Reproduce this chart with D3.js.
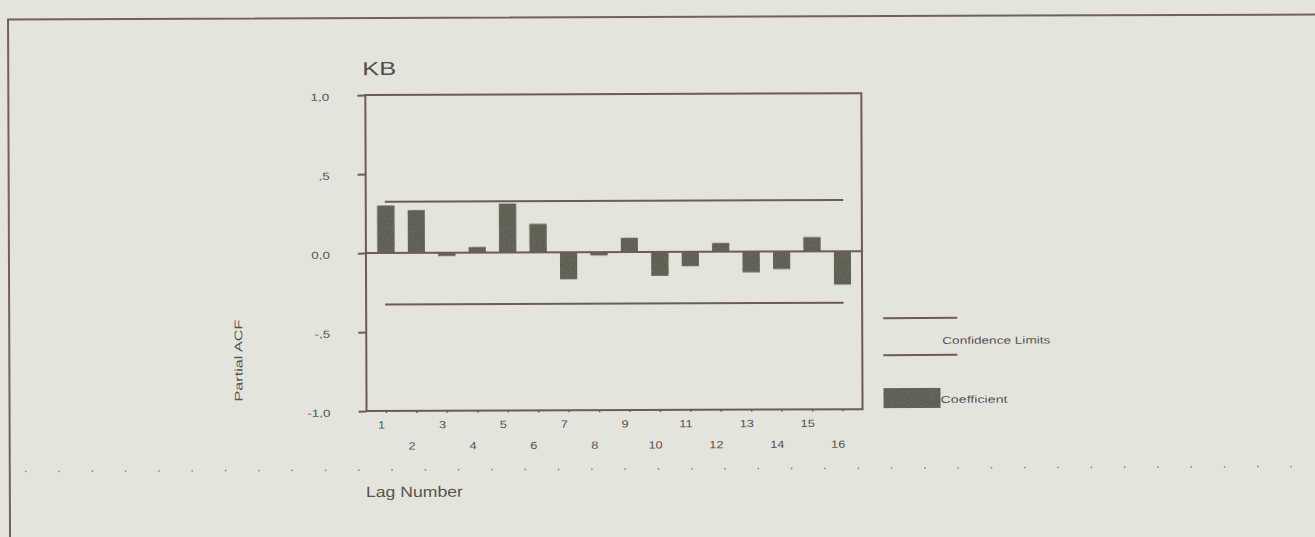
<!DOCTYPE html>
<html>
<head>
<meta charset="utf-8">
<script src="https://cdn.jsdelivr.net/npm/d3@7/dist/d3.min.js"></script>
<style>
  html, body { margin: 0; padding: 0; background: #e3e5dd; }
  svg { display: block; }
  text { font-family: "Liberation Sans", Arial, sans-serif; }
</style>
</head>
<body>
<svg id="chart" width="1315" height="537"></svg>
<script>
// Partial autocorrelation of the KB series, lags 1-16
const lags = [1, 2, 3, 4, 5, 6, 7, 8, 9, 10, 11, 12, 13, 14, 15, 16];
const pacf = [0.30, 0.27, -0.02, 0.035, 0.31, 0.18, -0.17, -0.02, 0.09, -0.15, -0.09, 0.055, -0.13, -0.11, 0.09, -0.21];
const confidenceLimit = 0.325;
const yTicks = [1, 0.5, 0, -0.5, -1];
const yTickLabels = ["1,0", ",5", "0,0", "-,5", "-1,0"];
const lagLabels = ["1", "2", "3", "4", "5", "6", "7", "8", "9", "10", "11", "12", "13", "14", "15", "16"];

const W = 1315, H = 537;
const plot = { left: 366, right: 862, top: 94, bottom: 410 };
const ink = "#6c5b57";
const textCol = "#58534f";
const barCol = "#7b7a6c";

// widen text horizontally by a factor, keeping its anchor
function stretch(sel, k) {
  sel.each(function () {
    const len = this.getComputedTextLength();
    d3.select(this).attr("textLength", len * k).attr("lengthAdjust", "spacingAndGlyphs");
  });
}

const svg = d3.select("#chart");

// speckled fill for the coefficient bars
const defs = svg.append("defs");
const grain = defs.append("filter").attr("id", "grain")
  .attr("color-interpolation-filters", "sRGB")
  .attr("x", 0).attr("y", 0).attr("width", 1).attr("height", 1);
grain.append("feTurbulence").attr("type", "fractalNoise")
  .attr("baseFrequency", 0.95).attr("numOctaves", 2).attr("seed", 4).attr("result", "n");
grain.append("feColorMatrix").attr("in", "n").attr("type", "matrix")
  .attr("values", "0 0 0 0 0.36  0 0 0 0 0.36  0 0 0 0 0.32  0.9 0.9 0.9 0 -0.5")
  .attr("result", "dots");
grain.append("feComposite").attr("in", "dots").attr("in2", "SourceGraphic")
  .attr("operator", "in").attr("result", "clip");
grain.append("feMerge").call(m => {
  m.append("feMergeNode").attr("in", "SourceGraphic");
  m.append("feMergeNode").attr("in", "clip");
});

const root = svg.append("g").attr("transform", `rotate(-0.22, ${W / 2}, ${H / 2})`);

// page frame
root.append("path")
  .attr("d", `M9,${H + 10} L9,17 L${W + 10},17`)
  .attr("fill", "none").attr("stroke", "#735f5b").attr("stroke-width", 2);

// dotted separator
const dotX = d3.range(25, W, 33.3);
root.append("g").selectAll("circle").data(dotX).join("circle")
  .attr("cx", d => d).attr("cy", 469).attr("r", 0.9).attr("fill", "#8f8a86");

// scales
const x = d3.scaleBand().domain(lags).range([377.5, 851]).paddingInner(0.44).paddingOuter(0);
const y = d3.scaleLinear().domain([-1, 1]).range([plot.bottom, plot.top]);

// bars
root.append("g").selectAll("rect").data(lags).join("rect")
  .attr("x", d => x(d))
  .attr("width", x.bandwidth())
  .attr("y", (d, i) => y(Math.max(0, pacf[i])))
  .attr("height", (d, i) => Math.abs(y(pacf[i]) - y(0)))
  .attr("fill", barCol)
  .attr("filter", "url(#grain)");

// zero line
root.append("line")
  .attr("x1", plot.left).attr("x2", plot.right)
  .attr("y1", y(0)).attr("y2", y(0))
  .attr("stroke", ink).attr("stroke-width", 2);

// confidence limits
const cx0 = x(lags[0]) + x.bandwidth() / 2 - 1;
const cx1 = x(lags[lags.length - 1]) + x.bandwidth() / 2 + 1;
root.append("g").selectAll("line").data([confidenceLimit, -confidenceLimit]).join("line")
  .attr("x1", cx0).attr("x2", cx1)
  .attr("y1", d => y(d)).attr("y2", d => y(d))
  .attr("stroke", ink).attr("stroke-width", 2);

// plot frame
root.append("rect")
  .attr("x", plot.left).attr("y", plot.top)
  .attr("width", plot.right - plot.left).attr("height", plot.bottom - plot.top)
  .attr("fill", "none").attr("stroke", ink).attr("stroke-width", 2);

// y axis
const yAxis = d3.axisLeft(y).tickValues(yTicks)
  .tickFormat((d, i) => yTickLabels[i]).tickSize(8).tickPadding(28);
const gy = root.append("g").attr("transform", `translate(${plot.left},0)`).call(yAxis);
gy.select(".domain").remove();
gy.selectAll(".tick line").attr("stroke", ink).attr("stroke-width", 2);
gy.selectAll(".tick text").attr("fill", textCol).attr("font-size", 10)
  .attr("font-family", "Liberation Sans, Arial, sans-serif")
  .attr("dy", "0.5em")
  .call(stretch, 1.35);

// x axis: odd lags on the first row, even lags on the second
const xAxis = d3.axisBottom(x).tickValues(lags).tickFormat((d, i) => lagLabels[i]).tickSize(2);
const gx = root.append("g").attr("transform", `translate(0,${plot.bottom})`).call(xAxis);
gx.select(".domain").remove();
gx.selectAll(".tick line").attr("stroke", ink).attr("stroke-width", 1.5);
gx.selectAll(".tick text")
  .attr("fill", textCol).attr("font-size", 10.5)
  .attr("font-family", "Liberation Sans, Arial, sans-serif")
  .attr("x", -5)
  .attr("y", d => (d % 2 === 1) ? 10 : 31)
  .call(stretch, 1.22);

// title
root.append("text").attr("x", 363).attr("y", 74)
  .attr("font-size", 19).attr("fill", "#544e4b")
  .attr("textLength", 34).attr("lengthAdjust", "spacingAndGlyphs")
  .text("KB");

// axis titles
root.append("text")
  .attr("transform", "translate(242,359) rotate(-90)")
  .attr("text-anchor", "middle").attr("font-size", 11).attr("fill", textCol)
  .attr("textLength", 82).attr("lengthAdjust", "spacingAndGlyphs")
  .text("Partial ACF");

root.append("text").attr("x", 365).attr("y", 496)
  .attr("font-size", 15).attr("fill", textCol)
  .attr("textLength", 97).attr("lengthAdjust", "spacingAndGlyphs")
  .text("Lag Number");

// legend
const lg = root.append("g");
lg.selectAll("line").data([319, 356]).join("line")
  .attr("x1", 883).attr("x2", 957).attr("y1", d => d).attr("y2", d => d)
  .attr("stroke", ink).attr("stroke-width", 2);
lg.append("text").attr("x", 942).attr("y", 345)
  .attr("font-size", 10).attr("fill", textCol)
  .attr("textLength", 108).attr("lengthAdjust", "spacingAndGlyphs")
  .text("Confidence Limits");
lg.append("rect").attr("x", 883).attr("y", 389).attr("width", 57).attr("height", 20)
  .attr("fill", barCol).attr("filter", "url(#grain)");
lg.append("text").attr("x", 940).attr("y", 404)
  .attr("font-size", 10).attr("fill", textCol)
  .attr("textLength", 67).attr("lengthAdjust", "spacingAndGlyphs")
  .text("Coefficient");
</script>
</body>
</html>
